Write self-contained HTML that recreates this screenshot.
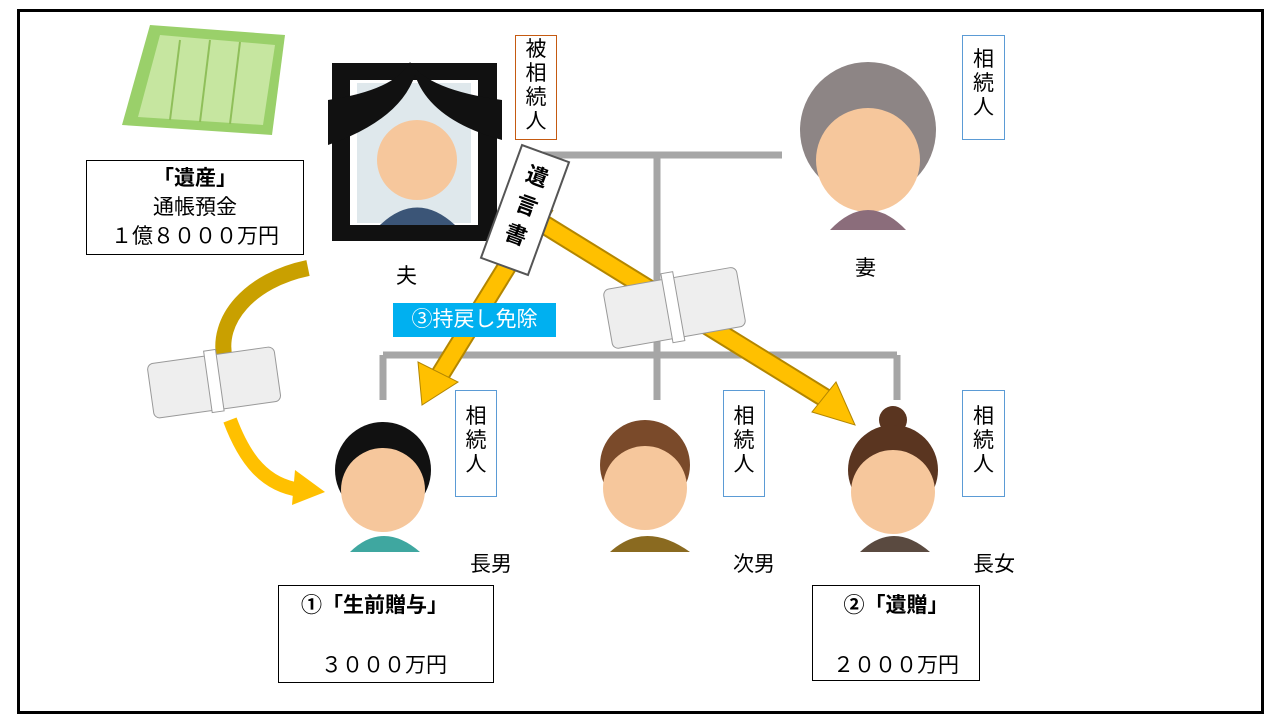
<!DOCTYPE html>
<html><head><meta charset="utf-8"><style>
body{margin:0;width:1280px;height:720px;background:#fff;overflow:hidden;position:relative;font-family:"Liberation Sans","Noto Sans CJK JP",sans-serif}
.frame{position:absolute;left:17px;top:9px;width:1241px;height:699px;border:3px solid #000}
.box{position:absolute;border:1.5px solid #000;background:#fff;text-align:center;font-size:21px;color:#000}
.v{position:absolute;border:1px solid #5b9bd5;background:#fff;font-size:21px;line-height:24px;text-align:center;padding-top:8px;box-sizing:border-box}
.t{position:absolute;font-size:21px}
</style></head><body>
<div class="frame"></div>
<svg width="1280" height="720" style="position:absolute;left:0;top:0">
<g stroke="#a6a6a6" stroke-width="7" fill="none">
<path d="M540 155H782M657 155V355M383 355H897M383 355V400M657 355V400M897 355V400"/>
</g>
<path d="M308 268 C250 280 215 320 225 360" stroke="#c9a000" stroke-width="16" fill="none"/>
<path d="M230 420 C245 460 265 485 300 490" stroke="#ffc000" stroke-width="14" fill="none"/>
<polygon points="295,470 325,492 292,505" fill="#ffc000"/>
<line x1="545" y1="205" x2="440" y2="375" stroke="#b38600" stroke-width="20"/>
<line x1="545" y1="205" x2="440" y2="375" stroke="#ffc000" stroke-width="16"/>
<polygon points="418,362 422,405 458,382" fill="#ffc000" stroke="#b38600"/>
<line x1="545" y1="225" x2="825" y2="398" stroke="#b38600" stroke-width="20"/>
<line x1="545" y1="225" x2="825" y2="398" stroke="#ffc000" stroke-width="16"/>
<polygon points="812,412 855,425 836,382" fill="#ffc000" stroke="#b38600"/>
<polygon points="150,25 285,35 272,135 122,125" fill="#9ad06a"/>
<polygon points="160,35 275,45 263,125 138,117" fill="#c6e6a0"/>
<g stroke="#8fbf5a" stroke-width="2"><line x1="180" y1="40" x2="170" y2="120"/><line x1="210" y1="40" x2="200" y2="122"/><line x1="240" y1="42" x2="230" y2="124"/></g>
<g transform="rotate(-8 214 382)"><rect x="150" y="355" width="128" height="55" rx="6" fill="#eee" stroke="#999"/><rect x="208" y="350" width="12" height="62" fill="#fff" stroke="#999"/></g>
<g transform="rotate(-10 674 308)"><rect x="607" y="278" width="135" height="60" rx="6" fill="#eee" stroke="#999"/><rect x="667" y="272" width="12" height="70" fill="#fff" stroke="#999"/></g>
<rect x="332" y="63" width="165" height="178" fill="#111"/>
<rect x="350" y="80" width="128" height="145" fill="#fff"/>
<rect x="357" y="83" width="114" height="140" fill="#dfe8ec"/>
<circle cx="417" cy="160" r="40" fill="#f6c79c"/>
<path d="M380 225 Q417 190 455 225Z" fill="#3b5577"/>
<path d="M328 100 Q395 90 410 62 Q428 90 502 100 L502 140 Q430 120 415 75 Q400 120 328 145Z" fill="#111"/>
<g transform="rotate(20 525 210)"><rect x="500" y="150" width="50" height="120" fill="#fff" stroke="#555" stroke-width="2"/>
<text x="514" y="182" font-size="22" font-weight="bold" font-family="Noto Sans CJK JP">遺</text>
<text x="514" y="213" font-size="22" font-weight="bold" font-family="Noto Sans CJK JP">言</text>
<text x="514" y="244" font-size="22" font-weight="bold" font-family="Noto Sans CJK JP">書</text></g>
<circle cx="868" cy="130" r="68" fill="#8d8585"/>
<circle cx="868" cy="160" r="52" fill="#f6c79c"/>
<path d="M830 230 Q868 190 906 230Z" fill="#8b6d7b"/>
<circle cx="383" cy="470" r="48" fill="#111"/><circle cx="383" cy="490" r="42" fill="#f6c79c"/><path d="M350 552 Q383 520 420 552Z" fill="#3fa7a0"/>
<circle cx="645" cy="465" r="45" fill="#7a4a2a"/><circle cx="645" cy="488" r="42" fill="#f6c79c"/><path d="M610 552 Q645 520 690 552Z" fill="#8a6a20"/>
<circle cx="893" cy="420" r="14" fill="#5a3520"/><circle cx="893" cy="470" r="45" fill="#5a3520"/><circle cx="893" cy="492" r="42" fill="#f6c79c"/><path d="M860 552 Q893 520 930 552Z" fill="#5a4a40"/>
</svg>
<div class="box" style="left:86px;top:160px;width:218px;height:95px;line-height:29px;padding-top:3px;box-sizing:border-box"><b>「遺産」</b><br>通帳預金<br>１億８０００万円</div>
<div class="v" style="left:515px;top:35px;width:42px;height:105px;border-color:#c55a11;padding-top:2px">被<br>相<br>続<br>人</div>
<div class="v" style="left:962px;top:35px;width:43px;height:105px;padding-top:12px">相<br>続<br>人</div>
<div class="v" style="left:455px;top:390px;width:42px;height:107px;padding-top:14px">相<br>続<br>人</div>
<div class="v" style="left:723px;top:390px;width:42px;height:107px;padding-top:14px">相<br>続<br>人</div>
<div class="v" style="left:962px;top:390px;width:43px;height:107px;padding-top:14px">相<br>続<br>人</div>
<div style="position:absolute;left:393px;top:303px;width:163px;height:34px;background:#00b0f0;color:#fff;font-size:21px;line-height:34px;text-align:center">③持戻し免除</div>
<div class="t" style="left:396px;top:260px">夫</div>
<div class="t" style="left:855px;top:252px">妻</div>
<div class="t" style="left:470px;top:548px">長男</div>
<div class="t" style="left:733px;top:548px">次男</div>
<div class="t" style="left:973px;top:548px">長女</div>
<div class="box" style="left:278px;top:585px;width:216px;height:98px;line-height:30px;padding-top:5px;box-sizing:border-box;text-align:left;padding-left:22px"><b>①「生前贈与」</b><br><br><span style="padding-left:20px">３０００万円</span></div>
<div class="box" style="left:812px;top:585px;width:168px;height:96px;line-height:30px;padding-top:5px;box-sizing:border-box"><b>②「遺贈」</b><br><br>２０００万円</div>
</body></html>
